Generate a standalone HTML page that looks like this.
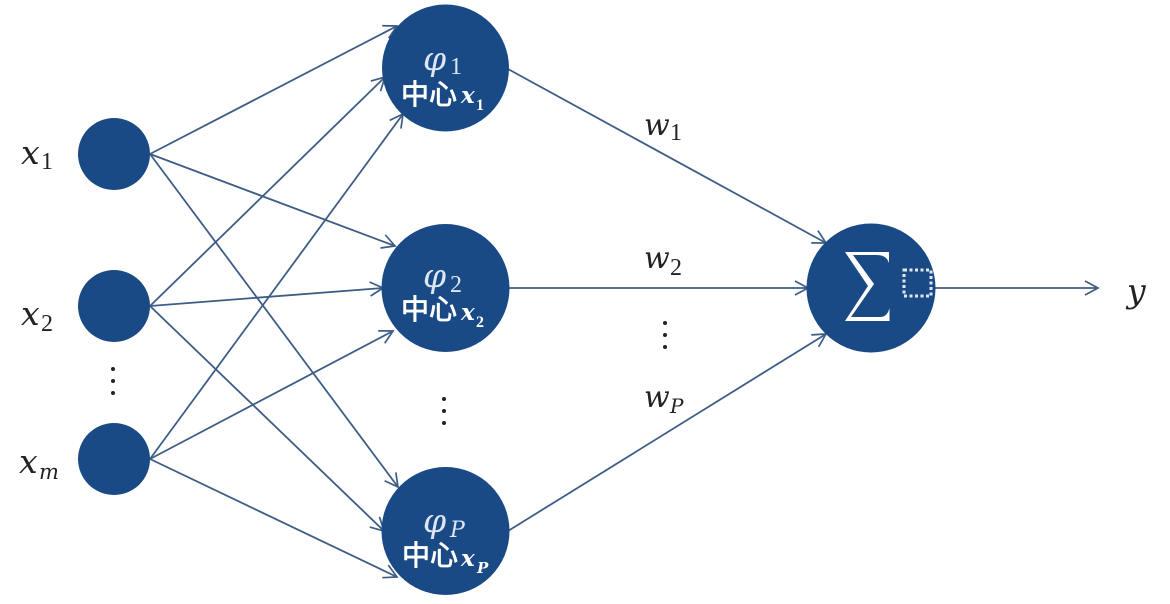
<!DOCTYPE html>
<html><head><meta charset="utf-8">
<style>
html,body{margin:0;padding:0;background:#fff;width:1170px;height:604px;overflow:hidden}
svg{display:block;filter:blur(.35px)}
.m{font-family:"DejaVu Serif","Liberation Serif",serif;font-style:italic}
.n{font-family:"Liberation Serif",serif}
.c{font-family:"Liberation Sans","Noto Sans CJK SC",sans-serif;stroke:#fff;stroke-width:.8}
</style></head><body>
<svg width="1170" height="604" viewBox="0 0 1170 604" xmlns="http://www.w3.org/2000/svg">
<defs>
<marker id="a" markerUnits="userSpaceOnUse" markerWidth="20" markerHeight="20" refX="17" refY="10" orient="auto">
<path d="M4 3L17 10L4 17" fill="none" stroke="#3d5d86" stroke-width="1.700"/>
</marker>
</defs>
<g stroke="#3d5d86" stroke-width="1.800" fill="none">
<line x1="150" y1="154" x2="397" y2="26" marker-end="url(#a)"/>
<line x1="150" y1="154" x2="395" y2="246" marker-end="url(#a)"/>
<line x1="150" y1="154" x2="398" y2="487" marker-end="url(#a)"/>
<line x1="150" y1="306" x2="385" y2="77" marker-end="url(#a)"/>
<line x1="150" y1="306" x2="383" y2="288" marker-end="url(#a)"/>
<line x1="150" y1="306" x2="384" y2="531" marker-end="url(#a)"/>
<line x1="150" y1="459" x2="403" y2="114" marker-end="url(#a)"/>
<line x1="150" y1="459" x2="393" y2="331" marker-end="url(#a)"/>
<line x1="150" y1="459" x2="397" y2="577" marker-end="url(#a)"/>
<line x1="508" y1="69" x2="826" y2="243" marker-end="url(#a)"/>
<line x1="508" y1="288" x2="808" y2="288" marker-end="url(#a)"/>
<line x1="508" y1="531" x2="826" y2="334" marker-end="url(#a)"/>
<line x1="935" y1="288" x2="1098" y2="288" marker-end="url(#a)"/>
</g>
<g fill="#1a4a85">
<circle cx="114" cy="154" r="36"/>
<circle cx="114" cy="306" r="36"/>
<circle cx="114" cy="459" r="36"/>
<circle cx="445.500" cy="68" r="63.500"/>
<circle cx="445.500" cy="288" r="64"/>
<circle cx="445.500" cy="531" r="64"/>
<circle cx="871" cy="288" r="64.500"/>
</g>
<g fill="#222">
<text x="21" y="164" font-size="33" class="m">x</text>
<text x="21" y="325" font-size="33" class="m">x</text>
<text x="19" y="473" font-size="33" class="m">x</text>
<text x="644" y="135" font-size="30" class="m">w</text>
<text x="644" y="268" font-size="30" class="m">w</text>
<text x="644" y="407" font-size="30" class="m">w</text>
<text x="1127" y="302" font-size="33" class="m">y</text>
<text x="41" y="169" font-size="24" class="n">1</text>
<text x="41" y="331" font-size="24" class="n">2</text>
<text x="39" y="479" font-size="21" class="m">m</text>
<text x="670" y="140" font-size="24" class="n">1</text>
<text x="670" y="275" font-size="24" class="n">2</text>
<text x="670" y="413" font-size="20" class="m">P</text>
<circle cx="113" cy="369" r="2"/><circle cx="113" cy="381" r="2"/><circle cx="113" cy="393" r="2"/>
<circle cx="444" cy="399" r="2"/><circle cx="444" cy="411" r="2"/><circle cx="444" cy="423" r="2"/>
<circle cx="665" cy="323" r="2"/><circle cx="665" cy="335" r="2"/><circle cx="665" cy="347" r="2"/>
</g>
<g fill="#dce7f3">
<text x="423" y="70" font-size="33" class="m">φ</text>
<text x="450" y="74" font-size="24" class="n">1</text>
<text x="423" y="287" font-size="33" class="m">φ</text>
<text x="450" y="292" font-size="24" class="n">2</text>
<text x="423" y="532" font-size="33" class="m">φ</text>
<text x="450" y="537" font-size="22" class="m">P</text>
</g>
<g fill="#fff">
<text x="401" y="104" font-size="28" class="c">中心</text>
<text x="461" y="103" font-size="23" class="m" font-weight="700">x</text>
<text x="476" y="110" font-size="16" class="n" font-weight="700">1</text>
<text x="401" y="319" font-size="28" class="c">中心</text>
<text x="461" y="320" font-size="23" class="m" font-weight="700">x</text>
<text x="476" y="327" font-size="16" class="n" font-weight="700">2</text>
<text x="402" y="565" font-size="28" class="c">中心</text>
<text x="461" y="566" font-size="23" class="m" font-weight="700">x</text>
<text x="477" y="573" font-size="15" class="m" font-weight="700">P</text>
</g>
<path d="M845 252H889V263C887 257 883 255 876 255H853L874 284L851 317H880C885 317 888 314 889.500 308V321H845L868 286Z" fill="#fff"/>
<rect x="904" y="270" width="27" height="26" fill="none" stroke="#dfe9f3" stroke-width="3" stroke-dasharray="3 2.500"/>
</svg>
</body></html>
